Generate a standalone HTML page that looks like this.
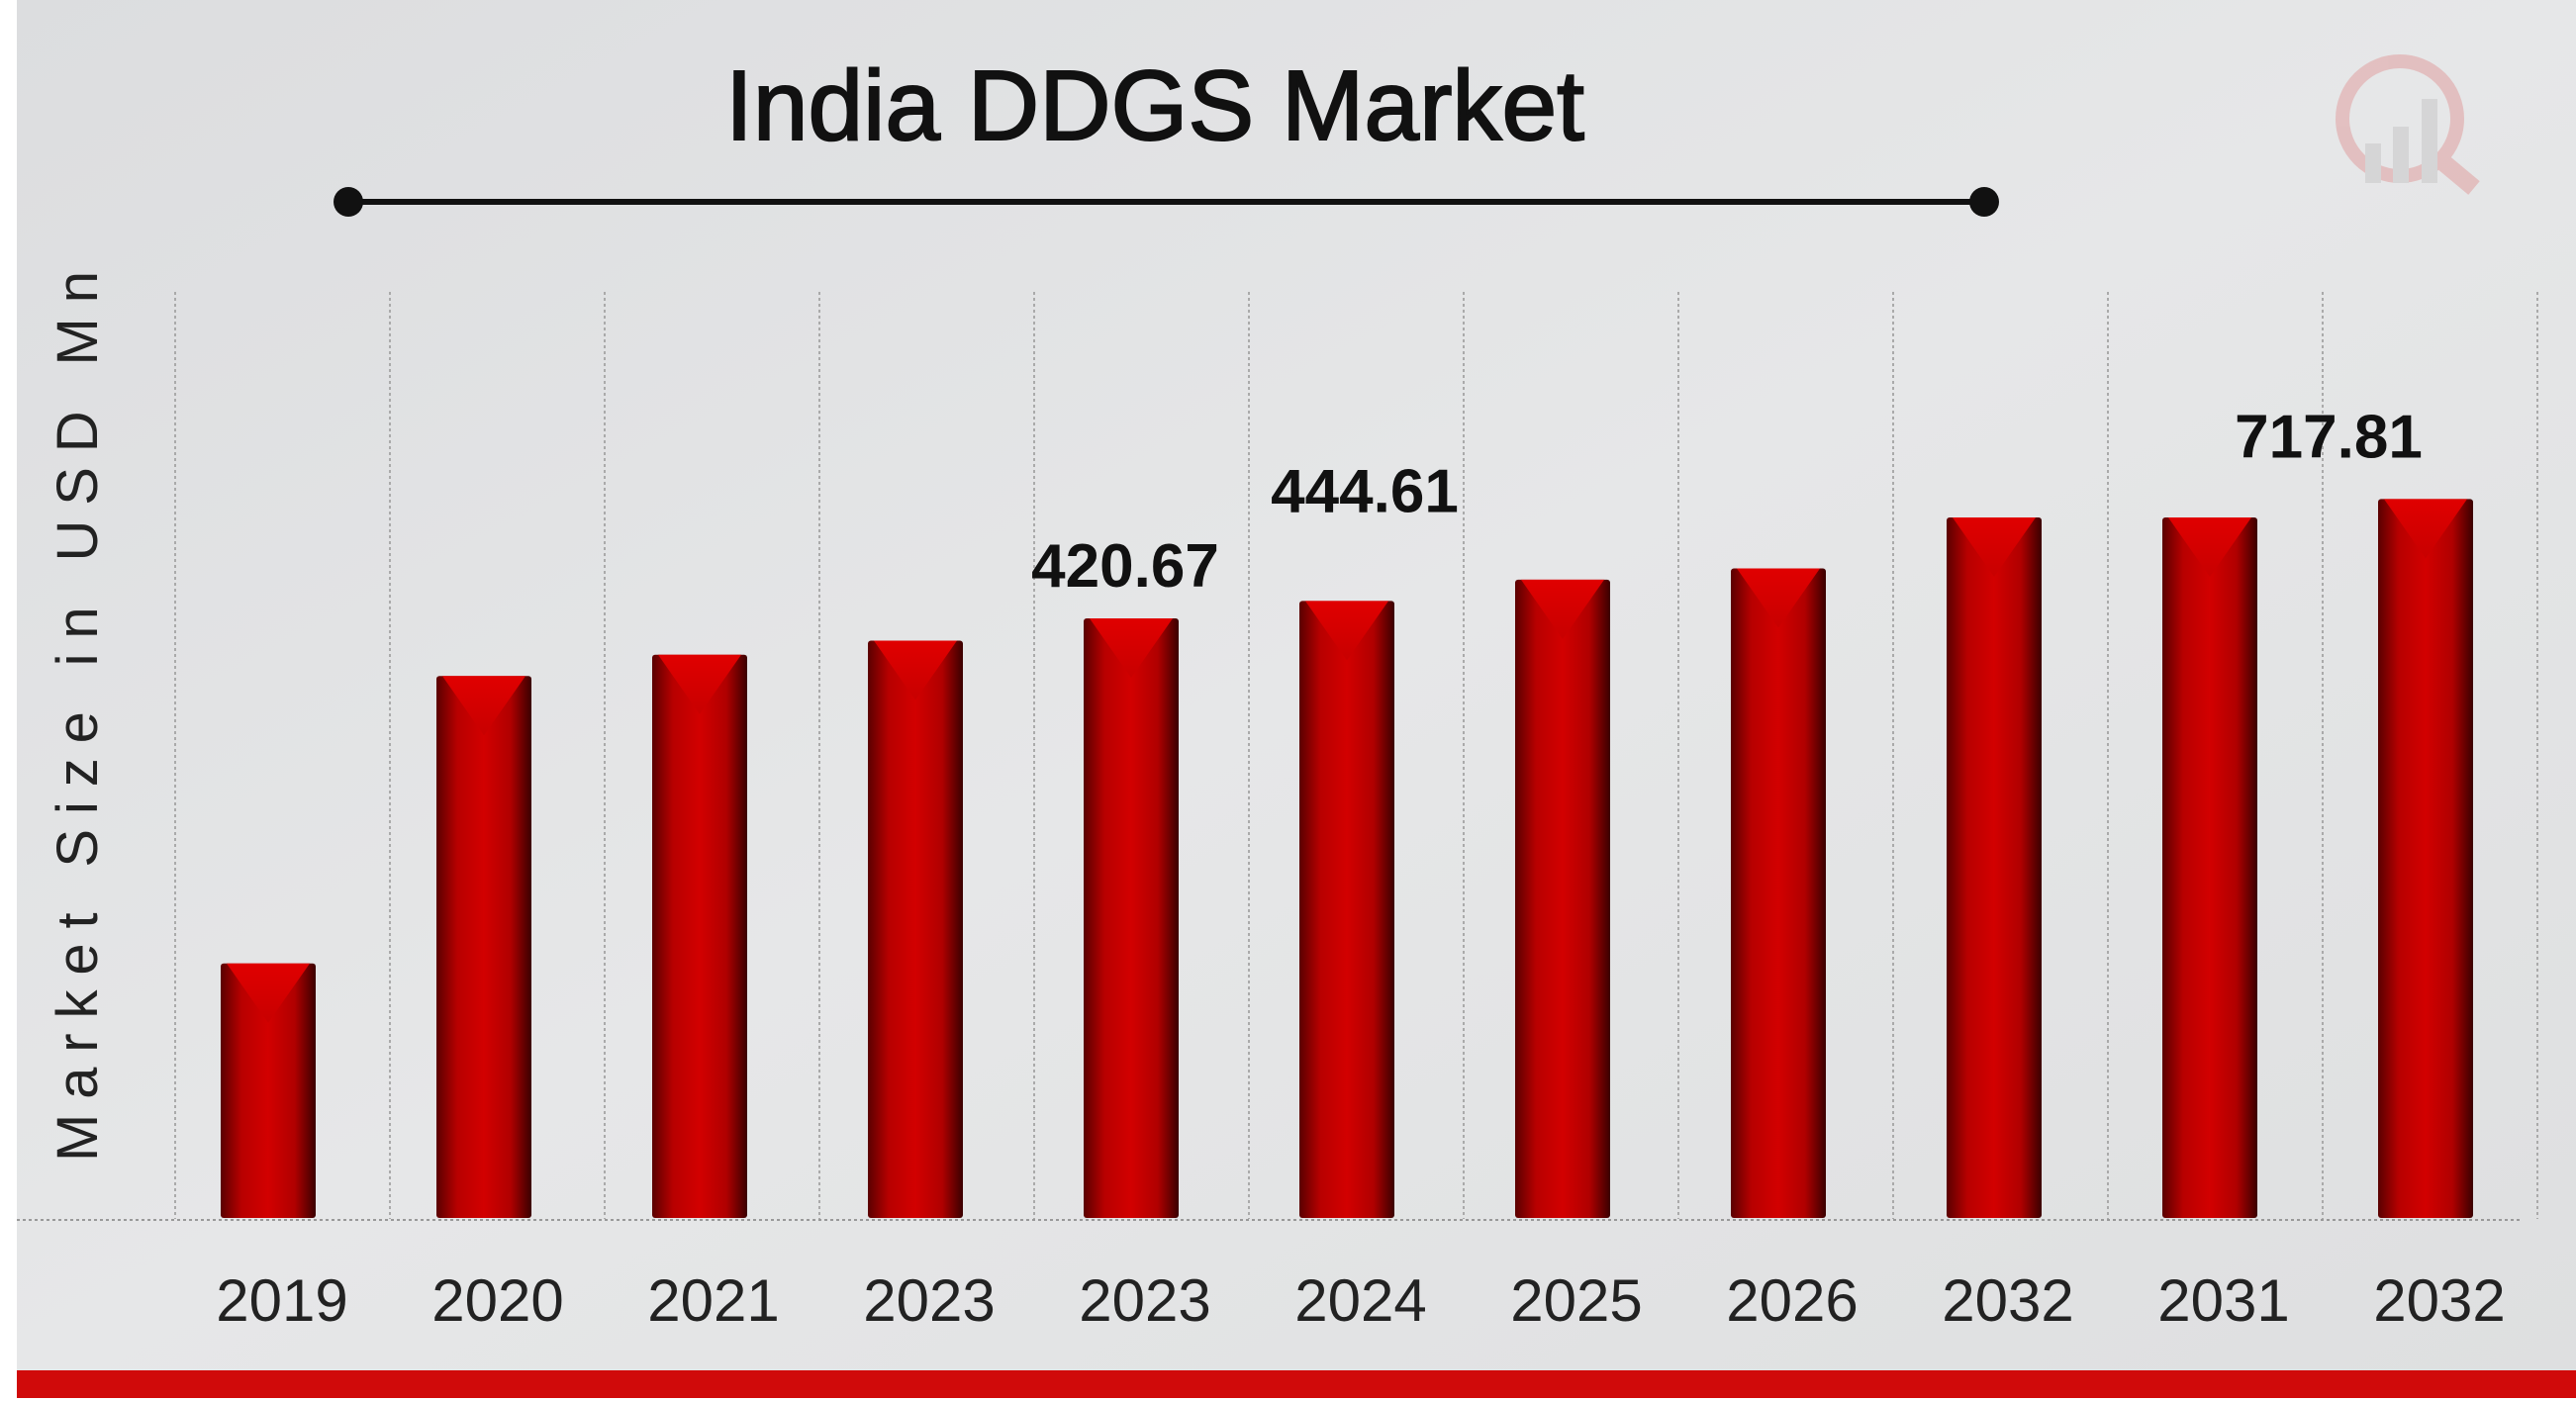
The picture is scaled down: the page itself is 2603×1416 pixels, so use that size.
<!DOCTYPE html>
<html><head><meta charset="utf-8"><style>
html,body{margin:0;padding:0;background:#fff;}
svg{display:block;}
text{font-family:"Liberation Sans",sans-serif;}
</style></head><body>
<svg id="chart" width="2603" height="1416" viewBox="0 0 2603 1416" xmlns="http://www.w3.org/2000/svg">
<defs>
<linearGradient id="bg" x1="0" y1="0" x2="1" y2="1">
<stop offset="0" stop-color="#dcdddf"/><stop offset="0.5" stop-color="#e6e7e8"/><stop offset="1" stop-color="#dedfe0"/>
</linearGradient>
<linearGradient id="barg" x1="0" y1="0" x2="1" y2="0">
<stop offset="0" stop-color="#5a0000"/><stop offset="0.22" stop-color="#b80000"/><stop offset="0.5" stop-color="#d20000"/><stop offset="0.78" stop-color="#b00000"/><stop offset="1" stop-color="#3a0000"/>
</linearGradient>
<linearGradient id="capg" x1="0" y1="0" x2="0" y2="1">
<stop offset="0" stop-color="#e00000"/><stop offset="1" stop-color="#c80000"/>
</linearGradient>
</defs>
<rect x="17" y="0" width="2586" height="1385" fill="url(#bg)"/>
<rect x="17" y="1385" width="2586" height="28" fill="#d00a0a"/>
<g opacity="0.55">
<circle cx="2425" cy="120" r="58" fill="none" stroke="#e0a0a0" stroke-width="14"/>
<line x1="2470" y1="165" x2="2500" y2="190" stroke="#e0a0a0" stroke-width="18"/>
<rect x="2390" y="145" width="16" height="40" fill="#c8c8c8"/><rect x="2418" y="128" width="16" height="57" fill="#c8c8c8"/><rect x="2447" y="100" width="16" height="85" fill="#c8c8c8"/>
</g>
<text x="1167" y="141" text-anchor="middle" font-size="100" textLength="868" lengthAdjust="spacingAndGlyphs" fill="#111" style="font-family:'Liberation Sans Narrow','Liberation Sans',sans-serif" stroke="#111" stroke-width="2">India DDGS Market</text>
<g>
<line x1="352" y1="204" x2="2005" y2="204" stroke="#111" stroke-width="6"/>
<circle cx="352" cy="204" r="15" fill="#111"/><circle cx="2005" cy="204" r="15" fill="#111"/>
</g>
<text transform="translate(98,724) rotate(-90)" text-anchor="middle" font-size="58" textLength="900" lengthAdjust="spacing" fill="#222">Market Size in USD Mn</text>
<g id="grid"></g>
<g id="bars"></g>
<g id="labels"></g>
</svg>
<script>
const categories = ["2019","2020","2021","2023","2023","2024","2025","2026","2032","2031","2032"];
const values = [177, 380, 395, 405, 420.67, 433, 448, 456, 492, 492, 505];
const printedLabels = ["", "", "", "", "420.67", "444.61", "", "", "", "", ""];
const extraLabels = ["717.81"];
const NS = "http://www.w3.org/2000/svg";
const baseY = 1227, pxPerUnit = 1.431, x0 = 271, step = 218, barW = 96;
function xScale(i){ return x0 + i*step; }
function yScale(v){ return baseY - v*pxPerUnit; }
const grid = document.getElementById('grid');
const bars = document.getElementById('bars');
const labels = document.getElementById('labels');
const hl = document.createElementNS(NS,'line');


hl.setAttribute('x1',17);hl.setAttribute('x2',2548);hl.setAttribute('y1',1233);hl.setAttribute('y2',1233);
hl.setAttribute('stroke','#999');hl.setAttribute('stroke-width','2');hl.setAttribute('stroke-dasharray','3 3');
grid.appendChild(hl);
for(let i=0;i<=categories.length;i++){
  const gx = xScale(i) - step/2 + 15 - i*1;
  const l = document.createElementNS(NS,'line');
  
  
  l.setAttribute('x1',gx);l.setAttribute('x2',gx);l.setAttribute('y1',295);l.setAttribute('y2',1232);
  l.setAttribute('stroke','#aaa');l.setAttribute('stroke-width','2');l.setAttribute('stroke-dasharray','3 3');
  grid.appendChild(l);
}
categories.forEach((c,i)=>{
  const cx = xScale(i), top = yScale(values[i]), left = cx - barW/2;
  const g = document.createElementNS(NS,'g');
  
  
  const r = document.createElementNS(NS,'rect');
  r.setAttribute('x',left);r.setAttribute('y',top);r.setAttribute('width',barW);r.setAttribute('height',baseY-top+4);
  r.setAttribute('fill','url(#barg)');r.setAttribute('rx','3');
  g.appendChild(r);
  const p = document.createElementNS(NS,'polygon');
  p.setAttribute('points',`${left+6},${top} ${left+barW-6},${top} ${cx},${top+60}`);
  p.setAttribute('fill','url(#capg)');
  g.appendChild(p);
  bars.appendChild(g);
  const t = document.createElementNS(NS,'text');
  
  
  t.setAttribute('x',cx+14);t.setAttribute('y',1335);t.setAttribute('text-anchor','middle');
  t.setAttribute('font-size','60');t.setAttribute('fill','#222');
  t.textContent = c;
  labels.appendChild(t);
  if(printedLabels[i]){
    const v = document.createElementNS(NS,'text');
    
    
    v.setAttribute('x',cx + (i===5?18:-6));v.setAttribute('y',top - (i===5?90:32));v.setAttribute('text-anchor','middle');
    v.setAttribute('font-size','62');v.setAttribute('font-weight','bold');v.setAttribute('fill','#111');
    v.textContent = printedLabels[i];
    labels.appendChild(v);
  }
});
const last = categories.length-1;
const e = document.createElementNS(NS,'text');


e.setAttribute('x',xScale(last)-98);e.setAttribute('y',yScale(values[last])-42);e.setAttribute('text-anchor','middle');
e.setAttribute('font-size','62');e.setAttribute('font-weight','bold');e.setAttribute('fill','#111');
e.textContent = extraLabels[0];
labels.appendChild(e);
</script>
</body></html>
